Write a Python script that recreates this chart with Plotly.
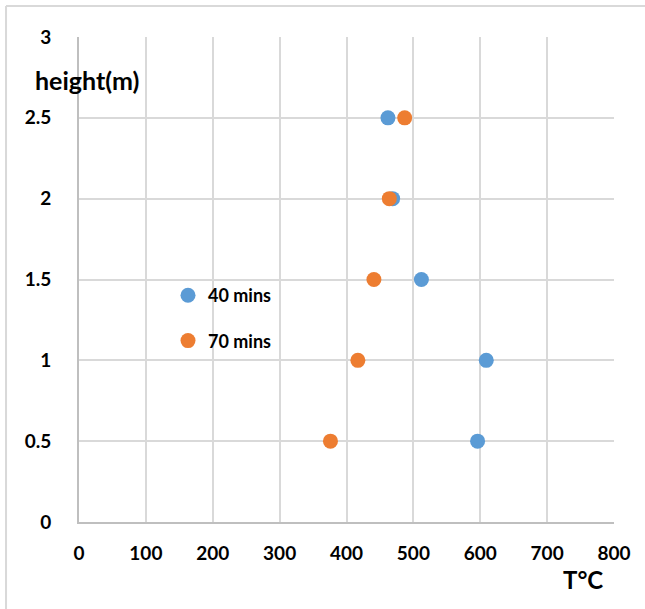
import plotly.graph_objects as go

# Measured heights (m) and temperatures (°C) at two times
heights = [0.5, 1.0, 1.5, 2.0, 2.5]
temp_40 = [596, 609, 512, 469, 462]
temp_70 = [376, 417, 441, 464, 487]

x_ticks = [0, 100, 200, 300, 400, 500, 600, 700, 800]
y_ticks = [0, 0.5, 1, 1.5, 2, 2.5, 3]

BLUE = "#5B9BD5"
ORANGE = "#ED7D31"
GRID = "#D9D9D9"
AXIS = "#BFBFBF"
FONT = "Lato"

fig = go.Figure()
fig.add_trace(go.Scatter(
    x=temp_40, y=heights, mode="markers", name="40 mins",
    legendgroup="a",
    marker=dict(color=BLUE, size=15, line=dict(width=0)),
))
fig.add_trace(go.Scatter(
    x=temp_70, y=heights, mode="markers", name="70 mins",
    legendgroup="b",
    marker=dict(color=ORANGE, size=15, line=dict(width=0)),
))

fig.update_xaxes(
    range=[0, 800], tickvals=x_ticks, ticktext=[str(v) for v in x_ticks],
    showgrid=True, gridcolor=GRID, gridwidth=1.8,
    showline=True, linecolor=AXIS, linewidth=1.8,
    zeroline=False, ticks="", ticklabelstandoff=13,
    tickfont=dict(family=FONT, size=19, color="black", weight="bold"),
)
fig.update_yaxes(
    range=[0, 3], tickvals=y_ticks, ticktext=["0", "0.5", "1", "1.5", "2", "2.5", "3"],
    showgrid=True, gridcolor=GRID, gridwidth=1.8,
    showline=True, linecolor=AXIS, linewidth=1.8,
    zeroline=False, ticks="", ticklabelstandoff=22,
    tickfont=dict(family=FONT, size=19, color="black", weight="bold"),
)

# Chart frame (left and top edges)
fig.add_shape(type="line", xref="paper", yref="paper",
              x0=-0.1364, x1=-0.1364, y0=1.0639, y1=-0.3,
              line=dict(color=GRID, width=2))
fig.add_shape(type="line", xref="paper", yref="paper",
              x0=-0.1364, x1=1.2, y0=1.0639, y1=1.0639,
              line=dict(color=GRID, width=2))

fig.add_annotation(
    text="height(m)", xref="paper", yref="paper",
    x=(87 - 79) / 535, y=(522 - 80) / 485, xanchor="center", yanchor="middle",
    showarrow=False, font=dict(family=FONT, size=25, color="black", weight="bold"),
)
fig.add_annotation(
    text="T°C", xref="paper", yref="paper",
    x=(583 - 79) / 535, y=(522 - 579) / 485, xanchor="center", yanchor="middle",
    showarrow=False, font=dict(family=FONT, size=24, color="black", weight="bold"),
)

fig.update_layout(
    width=645, height=609,
    margin=dict(l=79, r=31, t=37, b=87),
    paper_bgcolor="white", plot_bgcolor="white",
    showlegend=True,
    legend=dict(
        x=(168 - 79) / 535, y=(522 - 277) / 485, xanchor="left", yanchor="top",
        bgcolor="rgba(0,0,0,0)", tracegroupgap=19, traceorder="grouped",
        font=dict(family=FONT, size=18, color="black", weight="bold"),
        itemsizing="trace",
    ),
)

fig.write_html("out.html")
